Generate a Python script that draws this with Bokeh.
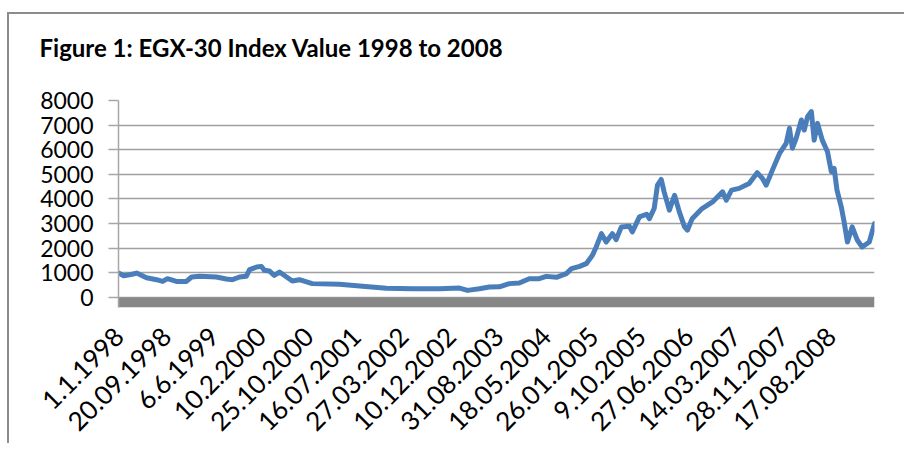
import math
from bokeh.plotting import figure
from bokeh.models import FixedTicker, BoxAnnotation, Range1d
from bokeh.embed import file_html
from bokeh.resources import INLINE

# --- data (x in label-interval units: 0 = 1.1.1998, 1 = 20.09.1998, ...) ---
tick_labels = ["1.1.1998", "20.09.1998", "6.6.1999", "10.2.2000", "25.10.2000",
               "16.07.2001", "27.03.2002", "10.12.2002", "31.08.2003", "18.05.2004",
               "26.01.2005", "9.10.2005", "27.06.2006", "14.03.2007", "28.11.2007",
               "17.08.2008"]
y_ticks = [0, 1000, 2000, 3000, 4000, 5000, 6000, 7000, 8000]

pos = [0.00, 0.11, 0.29, 0.38, 0.59, 0.80, 0.93, 1.03, 1.22, 1.43, 1.54, 1.71,
       2.06, 2.27, 2.40, 2.55, 2.69, 2.76, 2.91, 3.01, 3.07, 3.18, 3.28, 3.39,
       3.54, 3.66, 3.81, 4.08, 4.65, 5.14, 5.64, 6.19, 6.76, 7.18, 7.35, 7.60,
       7.81, 8.02, 8.23, 8.44, 8.65, 8.86, 9.01, 9.22, 9.43, 9.54, 9.71, 9.85,
       9.98, 10.06, 10.17, 10.27, 10.40, 10.48, 10.59, 10.76, 10.82, 10.97,
       11.12, 11.18, 11.28, 11.35, 11.43, 11.49, 11.60, 11.71, 11.81, 11.92,
       11.98, 12.08, 12.29, 12.51, 12.72, 12.80, 12.91, 13.07, 13.28, 13.45,
       13.56, 13.64, 13.77, 13.92, 14.06, 14.13, 14.19, 14.27, 14.38, 14.44,
       14.51, 14.59, 14.65, 14.72, 14.82, 14.93, 15.01, 15.07, 15.13, 15.22,
       15.28, 15.35, 15.45, 15.56, 15.66, 15.81, 15.92]
index_value = [990, 880, 940, 990, 800, 720, 650, 760, 650, 650, 830, 855,
               830, 745, 720, 830, 855, 1130, 1235, 1260, 1100, 1070, 895, 1030,
               830, 665, 720, 560, 530, 450, 370, 350, 350, 380, 285, 350,
               420, 430, 560, 585, 760, 760, 855, 815, 965, 1170, 1260, 1370,
               1710, 2050, 2590, 2250, 2590, 2350, 2865, 2890, 2660, 3270,
               3380, 3200, 3610, 4560, 4790, 4290, 3545, 4150, 3475, 2865,
               2730, 3200, 3610, 3880, 4290, 3950, 4360, 4430, 4630, 5065,
               4835, 4560, 5170, 5850, 6260, 6870, 6060, 6460, 7210, 6800,
               7340, 7550, 6390, 7070, 6390, 5920, 5110, 5240, 4360, 3680,
               3070, 2250, 2865, 2320, 2050, 2250, 3000]
title_text = "Figure 1: EGX-30 Index Value 1998 to 2008"

FONT = "Lato"

p = figure(frame_width=756, frame_height=207, output_backend="svg",
           toolbar_location=None,
           x_range=Range1d(0, 15.92), y_range=Range1d(-410, 8000),
           min_border_left=109, min_border_right=30, min_border_top=86,
           min_border_bottom=136, margin=(12, 0, 0, 7))
p.styles = {"border-top": "2px solid #8c8c8c", "border-left": "2px solid #8c8c8c"}

p.outline_line_color = None
p.background_fill_color = "white"
p.border_fill_color = "white"

# title; a trailing blank line keeps it clear of the plot area
p.title.text = title_text + "\n\u00a0"
p.title.text_font = FONT
p.title.text_font_size = "24px"
p.title.text_font_style = "bold"
p.title.text_color = "#000000"
p.title.align = "left"
p.title.offset = -79
p.title.standoff = 20

# floor band below zero
p.add_layout(BoxAnnotation(top=0, fill_color="#878787", fill_alpha=1.0,
                           line_color=None, level="underlay"))

p.line(pos, index_value, line_color="#4a7ebb", line_width=5,
       line_join="round", line_cap="round")

p.xgrid.visible = False
p.ygrid.ticker = FixedTicker(ticks=y_ticks)
p.ygrid.grid_line_color = "#a0a0a0"
p.ygrid.grid_line_width = 1.5

p.yaxis.ticker = FixedTicker(ticks=y_ticks)
p.yaxis.axis_line_color = "#a6a6a6"
p.yaxis.axis_line_width = 1.5
p.yaxis.major_tick_line_color = "#a6a6a6"
p.yaxis.major_tick_line_width = 1.5
p.yaxis.major_tick_out = 10
p.yaxis.major_tick_in = 0
p.yaxis.minor_tick_line_color = None
p.yaxis.major_label_standoff = 15
p.yaxis.major_label_text_font = FONT
p.yaxis.major_label_text_font_size = "23px"
p.yaxis.major_label_text_color = "#000000"

p.xaxis.ticker = FixedTicker(ticks=list(range(len(tick_labels))))
p.xaxis.major_label_overrides = {i: t for i, t in enumerate(tick_labels)}
p.xaxis.major_label_orientation = math.pi / 4
p.xaxis.axis_line_color = None
p.xaxis.major_tick_line_color = None
p.xaxis.minor_tick_line_color = None
p.xaxis.major_label_standoff = 18
p.xaxis.major_label_text_font = FONT
p.xaxis.major_label_text_font_size = "26px"
p.xaxis.major_label_text_color = "#000000"

open("out.html", "w").write(file_html(p, INLINE))
